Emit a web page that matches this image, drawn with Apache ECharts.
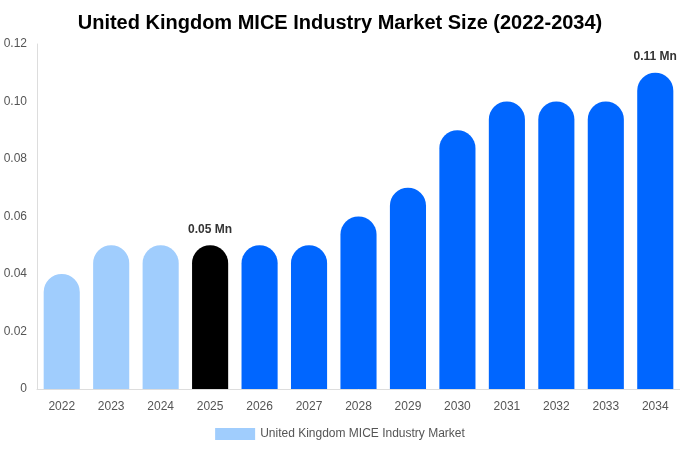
<!DOCTYPE html>
<html>
<head>
<meta charset="utf-8">
<script src="https://cdn.jsdelivr.net/npm/echarts@6/dist/echarts.min.js"></script>
<style>
	html, body { margin:0; padding:0; background:#fff; }
	#bar { width:680px; height:450px; }
</style>
</head>
<body>
<div id="bar"></div>
<script>
var years = ['2022','2023','2024','2025','2026','2027','2028','2029','2030','2031','2032','2033','2034'];
var marketSize = [0.04, 0.05, 0.05, 0.05, 0.05, 0.05, 0.06, 0.07, 0.09, 0.10, 0.10, 0.10, 0.11];
var barColors = ['#a0cdfd','#a0cdfd','#a0cdfd','#000000','#0066ff','#0066ff','#0066ff','#0066ff','#0066ff','#0066ff','#0066ff','#0066ff','#0066ff'];
var labelled = { 3: '0.05 Mn', 12: '0.11 Mn' };

window.onload = function(){
	var myChart = echarts.init(document.getElementById('bar'));
	var option = {
		title:{
			text:'United Kingdom MICE Industry Market Size (2022-2034)',
			left:'center',
			top:8,
			textStyle:{
				fontFamily:'Liberation Sans, Arial, sans-serif',
				fontSize:20,
				fontWeight:'bold',
				color:'#000'
			}
		},
		legend:{
			bottom:5,
			icon:'rect',
			itemWidth:40,
			itemHeight:12,
			itemGap:6,
			textStyle:{ color:'#555', fontSize:12, fontFamily:'Liberation Sans, Arial, sans-serif' },
			data:[{ name:'United Kingdom MICE Industry Market', itemStyle:{ color:'#a0cdfd' } }]
		},
		grid:{
			left:37,
			right:0,
			top:44,
			bottom:61
		},
		xAxis:{
			type:'category',
			data:years,
			axisTick:{ show:false },
			axisLine:{ lineStyle:{ color:'#ddd' } },
			axisLabel:{ color:'#555', fontSize:12, margin:12, fontFamily:'Liberation Sans, Arial, sans-serif' }
		},
		yAxis:{
			type:'value',
			min:0,
			max:0.12,
			interval:0.02,
			splitLine:{ show:false },
			axisTick:{ show:false },
			axisLine:{ show:true, lineStyle:{ color:'#ddd' } },
			axisLabel:{
				color:'#555',
				fontSize:12,
				margin:10,
				fontFamily:'Liberation Sans, Arial, sans-serif',
				formatter:function(v){ return v === 0 ? '0' : v.toFixed(2); }
			}
		},
		series:[{
			name:'United Kingdom MICE Industry Market',
			type:'bar',
			barWidth:'73%',
			data:marketSize.map(function(v, i){
				var item = { value:v, itemStyle:{ color:barColors[i], borderRadius:[18,18,0,0] } };
				if (labelled[i]) {
					item.label = {
						show:true,
						position:'top',
						distance:10,
						formatter:labelled[i],
						color:'#333',
						fontWeight:'bold',
						fontSize:12,
						fontFamily:'Liberation Sans, Arial, sans-serif'
					};
				}
				return item;
			})
		}]
	};
	myChart.setOption(option);
	window.addEventListener('resize',function(){
		myChart.resize();
	});
};
</script>
</body>
</html>
